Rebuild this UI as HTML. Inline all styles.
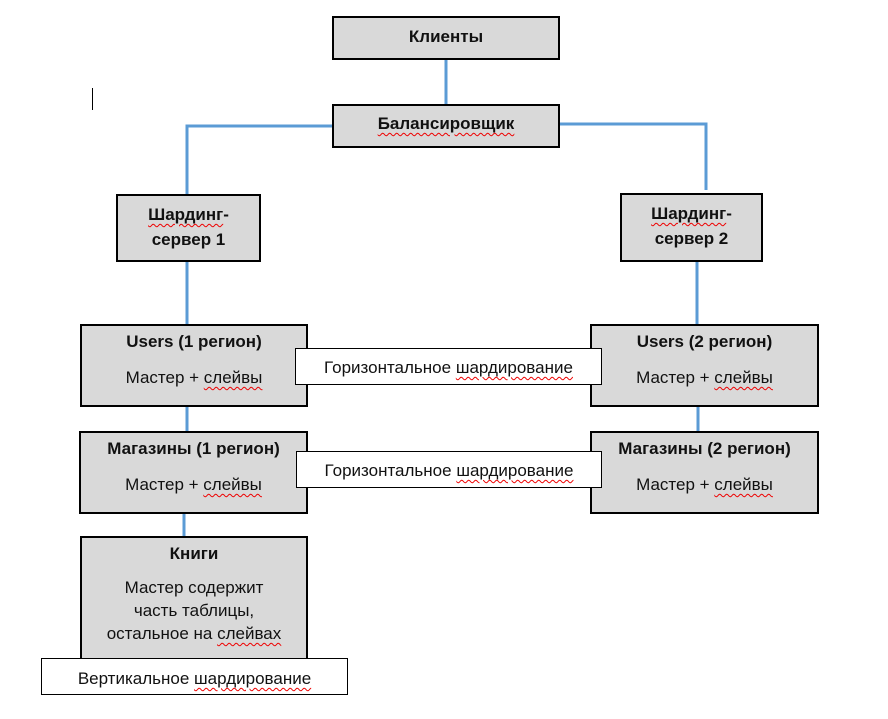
<!DOCTYPE html>
<html><head><meta charset="utf-8"><style>
body{margin:0;width:888px;height:719px;background:#fff;position:relative;overflow:hidden;font-family:"Liberation Sans",Arial,sans-serif;}
.b{position:absolute;background:#d9d9d9;border:2px solid #000;box-sizing:border-box;text-align:center;color:#111;font-size:17px;}
.t{font-weight:bold;}
.l{position:absolute;background:#fff;border:1px solid #000;box-sizing:border-box;text-align:center;font-size:17px;color:#111;}
.w{text-decoration:underline wavy #e00;text-decoration-thickness:1px;text-underline-offset:3px;}
</style></head><body>
<svg width="888" height="719" style="position:absolute;left:0;top:0">
<g stroke="#5b9bd5" stroke-width="3" fill="none">
<line x1="446" y1="59" x2="446" y2="104"/>
<polyline points="332,126 187,126 187,195"/>
<polyline points="560,124 706,124 706,190"/>
<line x1="187" y1="261" x2="187" y2="325"/>
<line x1="697" y1="261" x2="697" y2="325"/>
<line x1="187" y1="406" x2="187" y2="432"/>
<line x1="698" y1="406" x2="698" y2="432"/>
<line x1="184" y1="513" x2="184" y2="537"/>
</g>
<line x1="92.5" y1="88" x2="92.5" y2="110" stroke="#000" stroke-width="1"/>
</svg>
<div class="b t" style="left:332px;top:16px;width:228px;height:44px;line-height:38px">Клиенты</div>
<div class="b t" style="left:332px;top:104px;width:228px;height:44px;line-height:36px"><span class="w">Балансировщик</span></div>
<div class="b t" style="left:116px;top:194px;width:145px;height:68px;padding-top:6px;line-height:25px"><span class="w">Шардинг</span>-<br>сервер 1</div>
<div class="b t" style="left:620px;top:193px;width:143px;height:69px;padding-top:6px;line-height:25px"><span class="w">Шардинг</span>-<br>сервер 2</div>
<div class="b" style="left:80px;top:324px;width:228px;height:83px;padding-top:6px;line-height:20px"><span class="t">Users (1 регион)</span><br><div style="margin-top:16px">Мастер + <span class="w">слейвы</span></div></div>
<div class="b" style="left:590px;top:324px;width:229px;height:83px;padding-top:6px;line-height:20px"><span class="t">Users (2 регион)</span><br><div style="margin-top:16px">Мастер + <span class="w">слейвы</span></div></div>
<div class="b" style="left:79px;top:431px;width:229px;height:83px;padding-top:6px;line-height:20px"><span class="t">Магазины (1 регион)</span><br><div style="margin-top:16px">Мастер + <span class="w">слейвы</span></div></div>
<div class="b" style="left:590px;top:431px;width:229px;height:83px;padding-top:6px;line-height:20px"><span class="t">Магазины (2 регион)</span><br><div style="margin-top:16px">Мастер + <span class="w">слейвы</span></div></div>
<div class="b" style="left:80px;top:536px;width:228px;height:130px;padding-top:6px;line-height:20px"><span class="t">Книги</span><div style="margin-top:12px;line-height:23px">Мастер содержит<br>часть таблицы,<br>остальное на <span class="w">слейвах</span></div></div>
<div class="l" style="left:295px;top:348px;width:307px;height:37px;line-height:37px">Горизонтальное <span class="w">шардирование</span></div>
<div class="l" style="left:296px;top:451px;width:306px;height:37px;line-height:37px">Горизонтальное <span class="w">шардирование</span></div>
<div class="l" style="left:41px;top:658px;width:307px;height:37px;line-height:40px">Вертикальное <span class="w">шардирование</span></div>
</body></html>
